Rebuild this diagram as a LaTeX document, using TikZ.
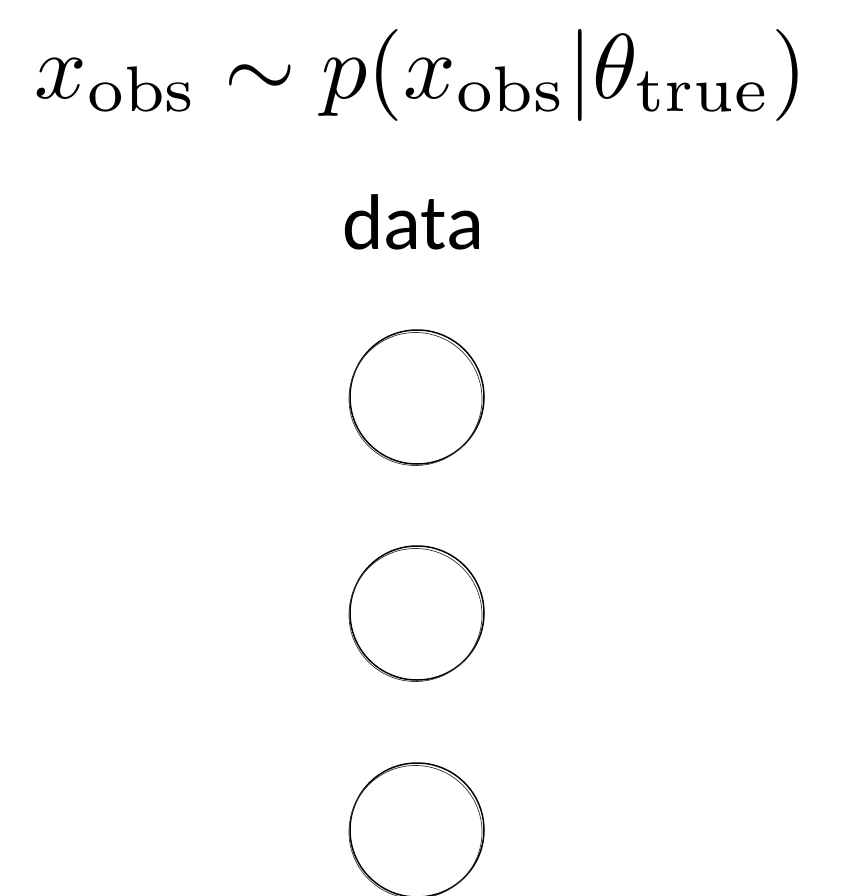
\documentclass[tikz,border=0pt]{standalone}
\usepackage{graphicx}
\usepackage{fontspec}
\newfontfamily\datafont{Carlito}
\tikzset{
  unit/.style={circle, minimum size=134pt, inner sep=0pt, draw=black, line width=1.5pt},
  unitshadow/.style={circle, minimum size=133pt, inner sep=0pt, draw=black!80, line width=0.7pt},
}
\begin{document}
\begin{tikzpicture}[x=1pt,y=-1pt]
\useasboundingbox (0,0) rectangle (842,896);
\node[inner sep=0pt] (formula) at (421,75) {\resizebox{772pt}{!}{$x_{\mathrm{obs}} \sim p(x_{\mathrm{obs}}|\theta_{\mathrm{true}})$}};
\node[inner sep=0pt, font=\datafont\fontsize{79}{90}\selectfont] (data) at (413,222) {data};
\node[unit] (c1) at (417,397) {};
\node[unitshadow] (c1b) at (415.5,399) {};
\node[unit] (c2) at (417,613) {};
\node[unitshadow] (c2b) at (415.5,615) {};
\node[unit] (c3) at (417,830) {};
\node[unitshadow] (c3b) at (415.5,832) {};
\end{tikzpicture}
\end{document}
